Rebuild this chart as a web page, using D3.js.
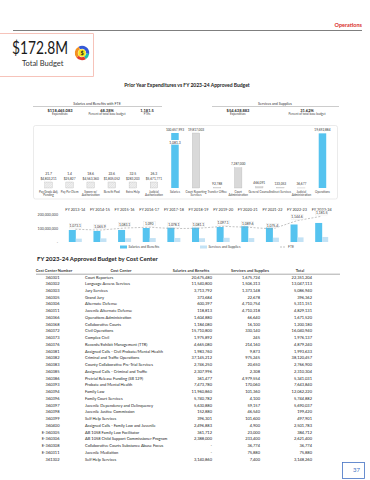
<!DOCTYPE html>
<html>
<head>
<meta charset="utf-8">
<script src="https://cdn.jsdelivr.net/npm/d3@7"></script>
<style>
  body { margin: 0; background: #fff; }
  svg { display: block; font-family: Lato, "Open Sans", sans-serif; }
</style>
</head>
<body>
<svg id="page" width="370" height="480"></svg>
<script>
// ---- data ----
const totalBudget = '$172.8M';

const sbHeadValues = ['$118,465,083', '68.38%', '1,181.5'];
const sbHeadLabels = ['Expenditure', 'Percent of total base budget', 'FTEs'];
const ssHeadValues = ['$54,638,883', '31.62%'];
const ssHeadLabels = ['Expenditure', 'Percent of total base budget'];

// upper bar chart: 7 salary items then 7 services items
const budgetCats = [
  'Pay Grade Adj.\nPending', 'Pay Per Diem', 'Sworn w/\nAuthorization', 'Benefit Pool',
  'Extra Help', 'Judicial\nAuthorization', 'Salaries',
  'Court Reporting\nServices', 'Transfer Office', 'Court\nAdministration', 'General Counsel',
  'Indirect Services', 'Judicial\nAdministration', 'Operations',
];
const budgetGroup = ['sb', 'sb', 'sb', 'sb', 'sb', 'sb', 'sb', 'ss', 'ss', 'ss', 'ss', 'ss', 'ss', 'ss'];
const budgetKind = ['pending', 'pending', 'pending', 'pending', 'pending', 'pending', 'base',
  'line', 'line', 'line', 'line', 'line', 'line', 'base'];
const budgetAmt = [4803211, 25827, 4563360, 1805052, 283203, 5671771, 100657993,
  19817003, 92788, 7287000, 466091, 133053, 36677, 19692884];
const budgetFte = [21.7, 1.4, 18.6, 22.6, 32.5, 26.3, 1081.3,
  null, null, null, null, null, null, null];

// lower chart: ten-year history
const fyLabels = ['FY 2013-14', 'FY 2014-15', 'FY 2015-16', 'FY 2016-17', 'FY 2017-18', 'FY 2018-19',
  'FY 2019-20', 'FY 2020-21', 'FY 2021-22', 'FY 2022-23', 'FY 2023-24'];
const fySalaries = [86e6, 79e6, 86e6, 100e6, 104e6, 103e6, 107e6, 114e6, 107e6, 125e6, 136e6];
const fyServices = [24e6, 26e6, 27e6, 28e6, 29e6, 27e6, 30e6, 28e6, 31e6, 33e6, 36e6];
const fyFte = [1073.1, 1065.9, 1083.1, 1090.0, 1078.1, 1081.1, 1097.1, 1089.6, 1075.4, 1144.6, 1181.5];
const expTicks = [0, 1e8, 2e8];

// cost center table
const ccHeaders = ['Cost Center Number', 'Cost Center', 'Salaries and Benefits', 'Services and Supplies', 'Total'];
const ccNumbers = ['360301', '360302', '360303', '360305', '360306', '360311', '360366', '360368',
  '360372', '360373', '360376', '360381', '360382', '360383', '360385', '360386', '360393', '360394',
  '360396', '360397', '360398', '360399', '360400', 'E-360305', 'E-360306', 'E-360308', 'E-360311', '361302'];
const ccNames = ['Court Reporters', 'Language Access Services', 'Jury Services', 'Grand Jury',
  'Alternate Defense', 'Juvenile Alternate Defense', 'Operations Administration', 'Collaborative Courts',
  'Civil Operations', 'Complex Civil', 'Records/Exhibit Management (TTR)',
  'Assigned Calls - Civil Probate/Mental Health', 'Criminal and Traffic Operations',
  'County Collaborative Pre-Trial Services', 'Assigned Calls - Criminal and Traffic',
  'Pretrial Release Funding (SB 129)', 'Probate and Mental Health', 'Family Law', 'Family Court Services',
  'Juvenile Dependency and Delinquency', 'Juvenile Justice Commission', 'Self Help Services',
  'Assigned Calls - Family Law and Juvenile', 'AB 1058 Family Law Facilitator',
  'AB 1058 Child Support Commissioner Program', 'Collaborative Courts Substance Abuse Focus',
  'Juvenile Mediation', 'Self Help Services'];
const ccSalaries = [20675480, 11540800, 3713792, 373684, 600397, 118813, 1604880, 1184080,
  15710800, 1975892, 4665080, 1983760, 37145212, 2746250, 2307996, 361477, 7473780, 11960860,
  5740782, 5630880, 152880, 396301, 2496883, 361712, 2388000, null, null, 3140860];
const ccServices = [1675724, 1506313, 1373148, 22678, 4710754, 4710318, 66640, 16100,
  330140, 245, 214160, 9873, 975245, 20650, 2308, 4979554, 170060, 101360,
  4100, 59157, 46540, 101600, 4900, 23000, 233400, 36774, 75880, 7400];

// ---- drawing ----
const BLUE = '#55c3ef';
const LIGHT_BLUE = '#c3e2f5';
const fmt = d3.format(',');
const svg = d3.select('#page');

// header strip
svg.append('text')
  .attr('x', 362).attr('y', 27).attr('text-anchor', 'end')
  .attr('font-size', 5.5).attr('font-weight', 'bold').attr('fill', '#d9302c')
  .text('Operations');
svg.append('line')
  .attr('x1', 13).attr('x2', 362).attr('y1', 30.5).attr('y2', 30.5)
  .attr('stroke', '#7f7f7f').attr('stroke-width', 1);

// total budget card
svg.append('path')
  .attr('d', 'M0,33.5H93.5V76.5H0')
  .attr('fill', 'none').attr('stroke', '#f6c3ba');
svg.append('text')
  .attr('x', 12).attr('y', 54).attr('font-size', 17).attr('fill', '#1a1a1a')
  .attr('textLength', 56).attr('lengthAdjust', 'spacingAndGlyphs')
  .text(totalBudget);
svg.append('text')
  .attr('x', 22).attr('y', 66).attr('font-size', 7.5).attr('fill', '#333')
  .text('Total Budget');

// coin icon
const icon = svg.append('g').attr('transform', 'translate(82,53)');
const ring = d3.arc().innerRadius(4.2).outerRadius(7.2);
[['#3559d6', -0.5, 1.7], ['#1fbfae', 1.7, 2.6], ['#e23b2e', 2.6, 4.0], ['#f39221', 4.0, 5.78]]
  .forEach(([c, a0, a1]) => {
    icon.append('path').attr('d', ring({ startAngle: a0, endAngle: a1 })).attr('fill', c);
  });
icon.append('circle').attr('r', 3.8).attr('fill', '#f7e51b');
icon.append('text').attr('y', 1.9).attr('text-anchor', 'middle')
  .attr('font-size', 5.5).attr('font-weight', 'bold').attr('fill', '#222').text('$');

// chart title
svg.append('text')
  .attr('x', 187).attr('y', 87).attr('text-anchor', 'middle')
  .attr('font-size', 5).attr('font-weight', 'bold').attr('fill', '#222')
  .text('Prior Year Expenditures vs FY 2023-24 Approved Budget');

// summary blocks
function summary(title, cx, x1, x2, xs, values, labels) {
  const g = svg.append('g');
  g.append('text').attr('x', cx).attr('y', 104.5).attr('text-anchor', 'middle')
    .attr('font-size', 3.6).attr('fill', '#333').text(title);
  g.append('line').attr('x1', x1).attr('x2', x2).attr('y1', 106.5).attr('y2', 106.5)
    .attr('stroke', '#999').attr('stroke-width', 0.5);
  values.forEach((v, i) => {
    g.append('text').attr('x', xs[i]).attr('y', 111.5).attr('text-anchor', 'middle')
      .attr('font-size', 4).attr('font-weight', 'bold').attr('fill', '#222').text(v);
    g.append('text').attr('x', xs[i]).attr('y', 115).attr('text-anchor', 'middle')
      .attr('font-size', 3).attr('fill', '#444').text(labels[i]);
  });
}
summary('Salaries and Benefits with FTE', 97, 33, 162, [60, 107, 147], sbHeadValues, sbHeadLabels);
summary('Services and Supplies', 275, 212, 339, [238, 307], ssHeadValues, ssHeadLabels);

// upper panel
svg.append('rect')
  .attr('x', 33.5).attr('y', 125.5).attr('width', 304).attr('height', 73.5).attr('rx', 2)
  .attr('fill', 'none').attr('stroke', '#e2e2e2').attr('stroke-width', 0.7);

const defs = svg.append('defs');
const hatch = defs.append('pattern').attr('id', 'hatch')
  .attr('patternUnits', 'userSpaceOnUse').attr('width', 1.6).attr('height', 1.6)
  .attr('patternTransform', 'rotate(45)');
hatch.append('rect').attr('width', 1.6).attr('height', 1.6).attr('fill', '#f2f2f2');
hatch.append('line').attr('x1', 0).attr('x2', 0).attr('y1', 0).attr('y2', 1.6)
  .attr('stroke', '#c8c8c8').attr('stroke-width', 0.6);

const xB = d3.scaleBand().domain(d3.range(budgetCats.length)).range([38, 333]);
const BASE = 188;
const ySB = d3.scaleLinear()
  .domain([0, d3.max(budgetAmt.filter((d, i) => budgetGroup[i] === 'sb'))]).range([BASE, 133]);
const ySS = d3.scaleLinear()
  .domain([0, d3.max(budgetAmt.filter((d, i) => budgetGroup[i] === 'ss'))]).range([BASE, 133]);

const bw = 7.5;
const barData = budgetAmt.map((v, i) => {
  const y = budgetGroup[i] === 'sb' ? ySB : ySS;
  let top = y(v);
  if (budgetKind[i] === 'pending') top = Math.min(top, BASE - 6);
  return { i, v, top, cx: xB(i) + xB.bandwidth() / 2 };
});

const upper = svg.append('g');
upper.selectAll('rect.bar')
  .data(barData)
  .join('rect')
  .attr('class', 'bar')
  .attr('x', d => d.cx - bw / 2)
  .attr('y', d => d.top)
  .attr('width', bw)
  .attr('height', d => BASE - d.top)
  .attr('fill', d => budgetKind[d.i] === 'base' ? BLUE : budgetKind[d.i] === 'pending' ? 'url(#hatch)' : '#d9d9d9')
  .attr('stroke', d => budgetKind[d.i] === 'base' ? 'none' : '#b0b0b0')
  .attr('stroke-width', 0.3);

// value labels
upper.selectAll('text.val')
  .data(barData)
  .join('text')
  .attr('class', 'val')
  .attr('x', d => d.cx).attr('y', d => d.top - 2.5)
  .attr('text-anchor', 'middle').attr('font-size', 3.2).attr('fill', '#333')
  .text(d => (budgetKind[d.i] === 'pending' ? '$' : '') + fmt(d.v));

// FTE labels
barData.filter(d => budgetFte[d.i] != null).forEach(d => {
  if (budgetKind[d.i] === 'base') {
    upper.append('rect').attr('x', d.cx - 6).attr('y', 140).attr('width', 12).attr('height', 4.6)
      .attr('fill', '#fff');
    upper.append('text').attr('x', d.cx).attr('y', 143.6).attr('text-anchor', 'middle')
      .attr('font-size', 3.4).attr('fill', '#333').text(fmt(budgetFte[d.i]));
  } else {
    upper.append('text').attr('x', d.cx).attr('y', d.top - 7)
      .attr('text-anchor', 'middle').attr('font-size', 3.4).attr('fill', '#333')
      .text(budgetFte[d.i]);
  }
});

// category labels
barData.forEach(d => {
  budgetCats[d.i].split('\n').forEach((line, k) => {
    upper.append('text').attr('x', d.cx).attr('y', 192.5 + k * 3.5)
      .attr('text-anchor', 'middle').attr('font-size', 3).attr('fill', '#444').text(line);
  });
});

// lower history chart
const xF = d3.scaleBand().domain(fyLabels).range([63, 334]);
const yE = d3.scaleLinear().domain([0, 2e8]).range([242, 214]);
const yFte = d3.scaleLinear().domain([900, 1200]).range([250, 214]);
const lower = svg.append('g');

lower.append('g')
  .attr('transform', 'translate(61,0)')
  .call(d3.axisLeft(yE).tickValues(expTicks).tickSize(0)
    .tickFormat(d => d === 0 ? '-' : fmt(d)))
  .call(g => g.select('.domain').remove())
  .call(g => g.selectAll('text').attr('font-size', 3.6).attr('fill', '#444')
    .attr('font-family', 'Lato, sans-serif'));

lower.selectAll('text.fy')
  .data(fyLabels)
  .join('text')
  .attr('class', 'fy')
  .attr('x', d => xF(d) + xF.bandwidth() / 2).attr('y', 210.5)
  .attr('text-anchor', 'middle').attr('font-size', 3.8).attr('fill', '#333')
  .text(d => d);

lower.selectAll('rect.sal')
  .data(fyLabels)
  .join('rect')
  .attr('class', 'sal')
  .attr('x', d => xF(d) + xF.bandwidth() / 2 - 6.5)
  .attr('y', (d, i) => yE(fySalaries[i]))
  .attr('width', 7)
  .attr('height', (d, i) => yE(0) - yE(fySalaries[i]))
  .attr('fill', BLUE);

lower.selectAll('rect.svc')
  .data(fyLabels)
  .join('rect')
  .attr('class', 'svc')
  .attr('x', d => xF(d) + xF.bandwidth() / 2 + 0.5)
  .attr('y', (d, i) => yE(fyServices[i]))
  .attr('width', 6)
  .attr('height', (d, i) => yE(0) - yE(fyServices[i]))
  .attr('fill', LIGHT_BLUE);

const fteLine = d3.line()
  .x((d, i) => xF(fyLabels[i]) + xF.bandwidth() / 2)
  .y(d => yFte(d));
lower.append('path')
  .datum(fyFte)
  .attr('d', fteLine)
  .attr('fill', 'none').attr('stroke', '#9a9a9a').attr('stroke-width', 0.6)
  .attr('stroke-dasharray', '2,1.5');

fyFte.forEach((v, i) => {
  const cx = xF(fyLabels[i]) + xF.bandwidth() / 2;
  const y = yFte(v) - 2;
  lower.append('rect').attr('x', cx - 6).attr('y', y - 3.8).attr('width', 12).attr('height', 4.6)
    .attr('fill', '#fff').attr('stroke', '#d8d8d8').attr('stroke-width', 0.3);
  lower.append('text').attr('x', cx).attr('y', y - 0.2).attr('text-anchor', 'middle')
    .attr('font-size', 3.4).attr('fill', '#333').text(fmt(v));
});

// legend
const legend = svg.append('g').attr('font-size', 3.4).attr('fill', '#444');
legend.append('rect').attr('x', 120).attr('y', 245.5).attr('width', 7).attr('height', 3).attr('fill', BLUE);
legend.append('text').attr('x', 128.5).attr('y', 248.3).text('Salaries and Benefits');
legend.append('rect').attr('x', 200).attr('y', 245.5).attr('width', 7).attr('height', 3).attr('fill', LIGHT_BLUE);
legend.append('text').attr('x', 208.5).attr('y', 248.3).text('Services and Supplies');
legend.append('line').attr('x1', 280).attr('x2', 286).attr('y1', 247).attr('y2', 247)
  .attr('stroke', '#9a9a9a').attr('stroke-width', 0.6).attr('stroke-dasharray', '2,1');
legend.append('text').attr('x', 288).attr('y', 248.3).text('FTE');

// cost center table
svg.append('text')
  .attr('x', 37).attr('y', 261).attr('font-size', 6).attr('font-weight', 'bold').attr('fill', '#222')
  .text('FY 2023-24 Approved Budget by Cost Center');

const colX = [54, 121, 191, 250, 300];
const table = svg.append('g').attr('fill', '#222');
ccHeaders.forEach((h, i) => {
  table.append('text').attr('x', colX[i]).attr('y', 272).attr('text-anchor', 'middle')
    .attr('font-size', 4).attr('font-weight', 600).text(h);
});
table.append('line').attr('x1', 36).attr('x2', 340).attr('y1', 274.2).attr('y2', 274.2)
  .attr('stroke', '#555').attr('stroke-width', 0.5);

const yRow = d3.scaleLinear().domain([0, ccNames.length - 1]).range([278.5, 460.5]);
const money = v => v == null ? '-' : fmt(v);
ccNames.forEach((name, i) => {
  const y = yRow(i);
  const total = (ccSalaries[i] || 0) + ccServices[i];
  const row = table.append('g').attr('font-size', 4);
  row.append('text').attr('x', 59.5).attr('y', y).attr('text-anchor', 'end').text(ccNumbers[i]);
  row.append('text').attr('x', 85).attr('y', y).text(name);
  row.append('text').attr('x', 212).attr('y', y).attr('text-anchor', 'end').text(money(ccSalaries[i]));
  row.append('text').attr('x', 260).attr('y', y).attr('text-anchor', 'end').text(money(ccServices[i]));
  row.append('text').attr('x', 312).attr('y', y).attr('text-anchor', 'end').text(money(total));
});

// page number
svg.append('rect')
  .attr('x', 342.5).attr('y', 462.5).attr('width', 22).attr('height', 16)
  .attr('fill', 'none').attr('stroke', '#4472c4').attr('stroke-width', 0.8);
svg.append('text')
  .attr('x', 360).attr('y', 471.5).attr('text-anchor', 'end')
  .attr('font-size', 6).attr('fill', '#4472c4').text('37');
</script>
</body>
</html>
